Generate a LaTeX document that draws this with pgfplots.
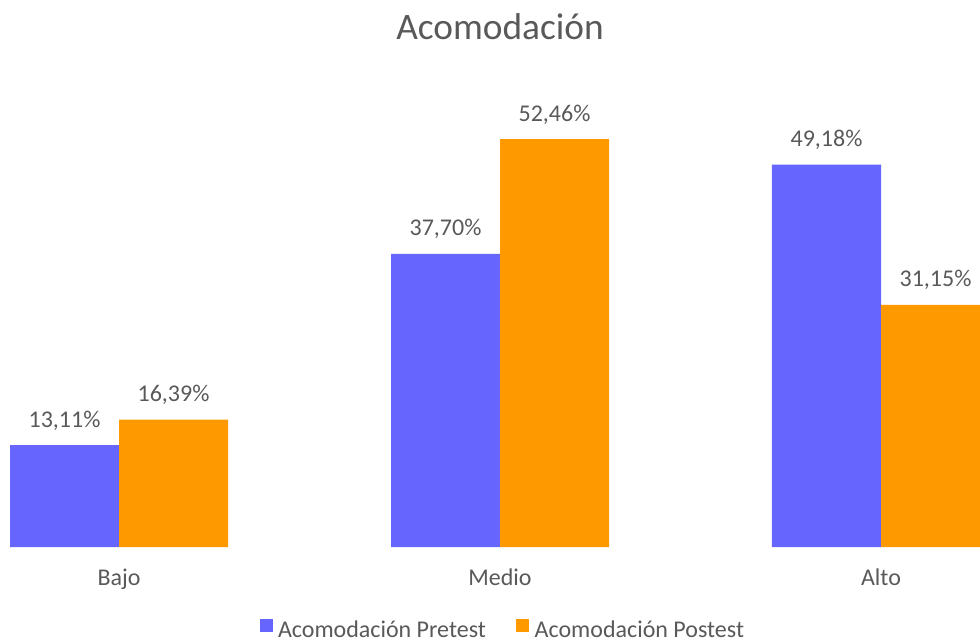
\documentclass[border=0pt]{standalone}
\usepackage{pgfplots}
\pgfplotsset{compat=1.18}
\usepackage{fontspec}
\setmainfont{Carlito}
\definecolor{pre}{HTML}{6666FF}
\definecolor{post}{HTML}{FF9900}
\definecolor{txt}{HTML}{595959}
\begin{document}
\begin{tikzpicture}
\begin{axis}[
  at={(0,0)}, anchor=south west,
  scale only axis, width=367.5pt, height=167.625pt,
  xmin=-0.31234, xmax=2.25984, ymin=0, ymax=57.48,
  ybar=0pt, bar width=40.875pt,
  axis line style={draw=none}, major tick length=0pt,
  ytick=\empty, xtick={0,1,2}, xticklabels={Bajo,Medio,Alto},
  xticklabel style={anchor=base, yshift=-14.6pt, font=\fontsize{9}{11}\selectfont, text=txt},
  /pgf/number format/assume math mode=true,
  nodes near coords={\pgfmathprintnumber[fixed,fixed zerofill,precision=2,use comma,assume math mode=true]{\pgfplotspointmeta}\%},
  every node near coord/.append style={anchor=base, yshift=6.75pt, font=\fontsize{9}{11}\selectfont, text=txt},
  clip mode=individual,
  legend columns=2,
  legend style={at={(0.5148,-0.188)}, anchor=center, draw=none, fill=none,
    font=\fontsize{9}{11}\selectfont, text=txt,
    /tikz/every even column/.append style={column sep=9.4pt}},
  legend cell align=left,
]
\addplot[fill=pre, draw=none, legend image code/.code={\fill[pre] (0pt,-0.5pt) rectangle (4.9pt,4.4pt);}]
  coordinates {(0,13.11) (1,37.70) (2,49.18)};
\addplot[fill=post, draw=none, legend image code/.code={\fill[post] (0pt,-0.5pt) rectangle (4.9pt,4.4pt);}]
  coordinates {(0,16.39) (1,52.46) (2,31.15)};
\legend{Acomodación Pretest, Acomodación Postest}
\end{axis}
\pgfresetboundingbox
\path[use as bounding box] (0pt,-35.25pt) rectangle (367.5pt,205.125pt);
\node[anchor=base, text=txt, font=\fontsize{14}{17}\selectfont] at (187.5pt,190.5pt) {Acomodación};
\end{tikzpicture}
\end{document}
